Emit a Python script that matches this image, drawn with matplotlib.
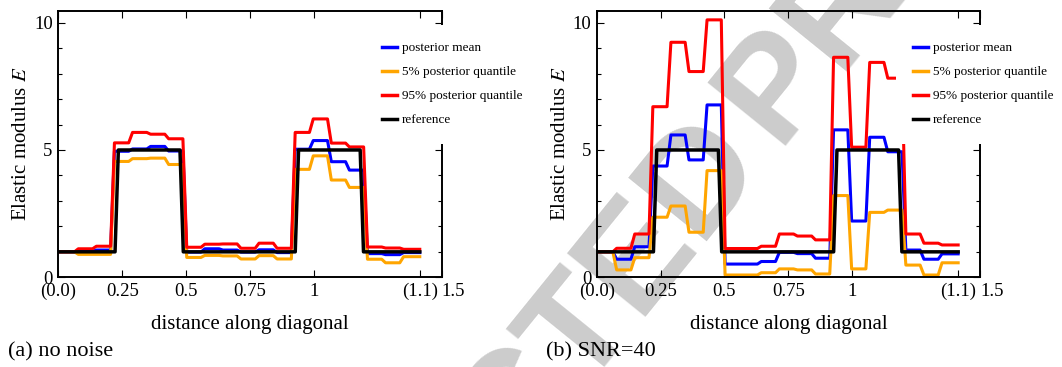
import numpy as np
import matplotlib
matplotlib.use("Agg")
from matplotlib import pyplot as plt
from matplotlib.ticker import MultipleLocator

plt.rcParams['font.family'] = ['Liberation Serif', 'DejaVu Serif']
plt.rcParams['mathtext.fontset'] = 'stix'

# ----------------------------- data ---------------------------------------#
# values on the 20 equal segments along the diagonal of the unit square
diag_len = np.sqrt(2.0)
n_seg = 20

# (a) no noise
mean_a = [1.0, 1.02, 1.07, 4.95, 5.04, 5.14, 4.96, 0.99, 1.12, 1.07,
          0.99, 1.08, 0.97, 5.03, 5.37, 4.54, 4.21, 0.93, 0.89, 0.97]
q05_a = [1.0, 0.90, 0.90, 4.55, 4.66, 4.68, 4.43, 0.78, 0.86, 0.84,
         0.72, 0.85, 0.72, 4.24, 4.77, 3.82, 3.53, 0.71, 0.57, 0.81]
q95_a = [1.0, 1.12, 1.22, 5.28, 5.69, 5.62, 5.44, 1.18, 1.30, 1.31,
         1.14, 1.34, 1.14, 5.69, 6.22, 5.27, 5.12, 1.19, 1.15, 1.10]

# (b) SNR=40
mean_b = [1.0, 0.71, 1.20, 4.37, 5.59, 4.61, 6.77, 0.52, 0.52, 0.62,
          0.98, 0.93, 0.75, 5.79, 2.21, 5.50, 4.93, 1.07, 0.71, 0.92]
q05_b = [1.0, 0.29, 0.77, 2.36, 2.80, 1.77, 4.19, 0.09, 0.09, 0.18,
         0.33, 0.29, 0.13, 3.21, 0.33, 2.55, 2.64, 0.48, 0.09, 0.57]
q95_b = [1.0, 1.14, 1.70, 6.70, 9.23, 8.08, 10.11, 1.13, 1.13, 1.22,
         1.70, 1.62, 1.47, 8.64, 5.11, 8.44, 7.82, 1.70, 1.34, 1.27]

# reference field: jumps along the diagonal
ref_edges = [0.2285, 0.4825, 0.9335, 1.1875]
ref_vals = [1, 5, 1, 5, 1]

xtick_pos = [0, 0.25, 0.5, 0.75, 1, diag_len, 1.5]
xtick_lab = ["(0.0)", "0.25", "0.5", "0.75", "1", "(1.1)", "1.5"]


# ----------------------- piecewise constant line --------------------------#
def step_line(edges, vals, width):
    xs = [0.0]
    ys = [vals[0]]
    for e, v0, v1 in zip(edges, vals[:-1], vals[1:]):
        xs += [e - width / 2, e + width / 2]
        ys += [v0, v1]
    xs.append(diag_len)
    ys.append(vals[-1])
    return xs, ys


seg_edges = [diag_len * k / n_seg for k in range(1, n_seg)]


def panel(ax, mean, q05, q95, leg_x):
    for vals, col, lab in [(mean, 'blue', 'posterior mean'),
                           (q05, 'orange', '5% posterior quantile'),
                           (q95, 'red', '95% posterior quantile')]:
        xs, ys = step_line(seg_edges, vals, 0.015)
        ax.plot(xs, ys, color=col, lw=2.2, label=lab)
    xs, ys = step_line(ref_edges, ref_vals, 0.013)
    ax.plot(xs, ys, color='black', lw=2.5, label='reference')

    ax.set_xlim(0, 1.5)
    ax.set_ylim(0, 10.47)
    ax.set_xticks(xtick_pos)
    ax.set_xticklabels(xtick_lab)
    ax.get_xticklabels()[-1].set_ha('left')
    ax.set_yticks([0, 5, 10])
    ax.yaxis.set_minor_locator(MultipleLocator(1))
    ax.tick_params(which='both', direction='in', top=True, right=True,
                   width=0.8, labelsize=13.5, pad=4)
    ax.tick_params(which='major', length=4.8)
    ax.tick_params(which='minor', length=2.6)
    for s in ax.spines.values():
        s.set_linewidth(1.4)
    ax.set_facecolor('none')
    ax.set_xlabel("distance along diagonal", fontsize=15, labelpad=10.5)
    ax.set_ylabel("Elastic modulus $E$", fontsize=15, labelpad=2)

    leg = ax.legend(loc='upper left', bbox_to_anchor=(leg_x, 0.946),
                    borderaxespad=0, fontsize=9.5, frameon=True,
                    fancybox=False, framealpha=1, edgecolor='none',
                    facecolor='white', handlelength=1.14,
                    handletextpad=0.4, labelspacing=0.89, borderpad=1.3)
    for h in leg.get_lines():
        h.set_linewidth(2.5)


fig = plt.figure(figsize=(10.62, 3.67), dpi=100)

# watermark behind the plots
wm_ang = 51
wm_x, wm_y = 765 / 1062, 1 - 160 / 367
fig.text(wm_x, wm_y, "UNCORRECTED", rotation=wm_ang, rotation_mode='anchor',
         ha='right', va='baseline', fontsize=105, fontweight='bold',
         family='Liberation Sans', color='#cccccc', zorder=-5)
fig.text(wm_x + 0.011, wm_y + 0.038, "PROOF", rotation=wm_ang,
         rotation_mode='anchor', ha='left', va='baseline', fontsize=105,
         fontweight='bold', family='Liberation Sans', color='#cccccc',
         zorder=-5)

ax1 = fig.add_axes([0.05490, 0.24441, 0.36102, 0.72643])
panel(ax1, mean_a, q05_a, q95_a, 0.799)
ax2 = fig.add_axes([0.56186, 0.24441, 0.36102, 0.72643])
panel(ax2, mean_b, q05_b, q95_b, 0.780)

fig.text(8 / 1062, 1 - 352 / 367, "(a) no noise", fontsize=16, va='center')
fig.text(546 / 1062, 1 - 352 / 367, "(b) SNR=40", fontsize=16, va='center')

fig.savefig("out.png", dpi=100)
